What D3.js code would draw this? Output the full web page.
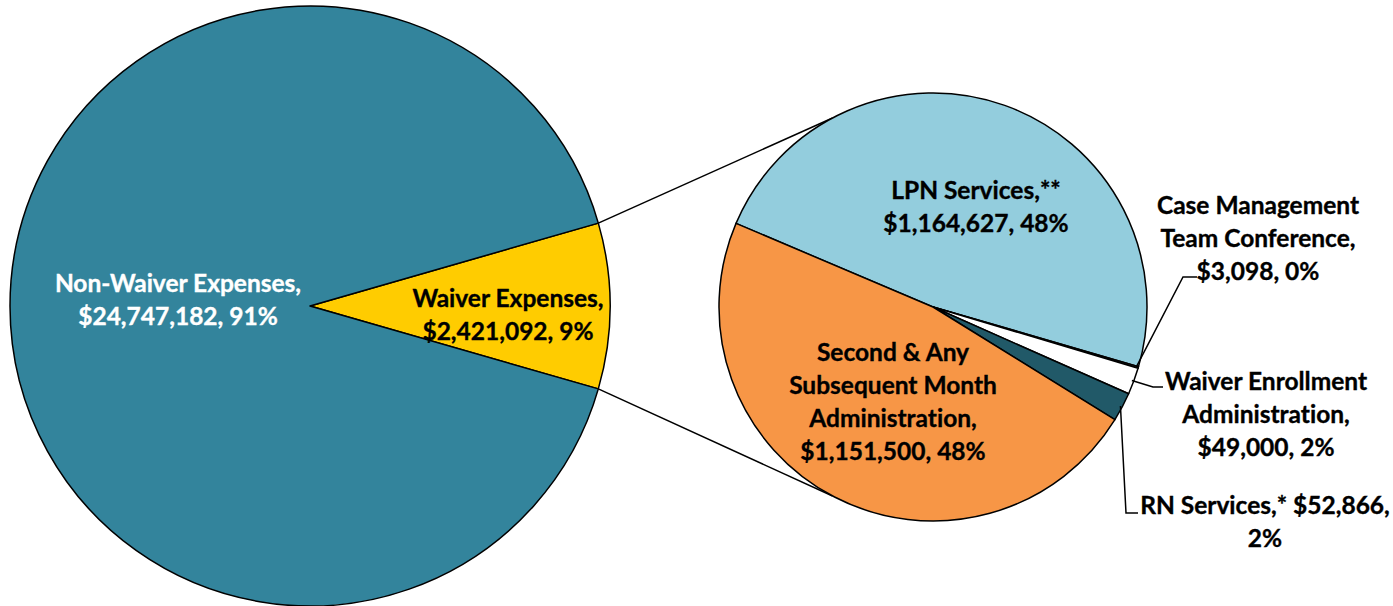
<!DOCTYPE html>
<html>
<head>
<meta charset="utf-8">
<script src="https://cdn.jsdelivr.net/npm/d3@7"></script>
<style>
  html, body { margin: 0; padding: 0; background: #fff; }
  svg text {
    font-family: Lato, "Open Sans", sans-serif;
    font-weight: 700;
    font-size: 24.5px;
    font-variant-ligatures: none;
    font-feature-settings: "liga" 0, "dlig" 0;
  }
</style>
</head>
<body>
<svg id="chart" width="1393" height="606"></svg>
<script>
// main pie
const mainNames = ['Waiver Expenses', 'Non-Waiver Expenses']
const mainValues = [2421092, 24747182]
const mainPct = ['9%', '91%']

// breakdown of waiver expenses (clockwise)
const subNames = [
  'LPN Services,**',
  'Case Management Team Conference,',
  'Waiver Enrollment Administration,',
  'RN Services,*',
  'Second & Any Subsequent Month Administration,',
]
const subValues = [1164627, 3098, 49000, 52866, 1151500]
const subPct = ['48%', '0%', '2%', '2%', '48%']

const fmt = d3.format('$,')
const rad = (deg) => (deg * Math.PI) / 180

const svg = d3.select('#chart')

// layout
const big = { cx: 310, cy: 306, r: 300 }
const small = { cx: 933, cy: 307, r: 214 }

const mainColor = d3.scaleOrdinal().domain(mainNames).range(['#ffcc00', '#33849c'])
const subColor = d3.scaleOrdinal().domain(subNames)
  .range(['#93cddd', '#4a4a4a', '#ffffff', '#215968', '#f79646'])

const waiverShare = mainValues[0] / d3.sum(mainValues)
const mainStart = Math.PI / 2 - Math.PI * waiverShare
const mainPie = d3.pie().sort(null).startAngle(mainStart).endAngle(mainStart + 2 * Math.PI)
const subPie = d3.pie().sort(null).startAngle(rad(-67)).endAngle(rad(-67) + 2 * Math.PI)

const bigArc = d3.arc().innerRadius(0).outerRadius(big.r)
const smallArc = d3.arc().innerRadius(0).outerRadius(small.r)

const mainArcs = mainPie(mainValues)
const subArcs = subPie(subValues)

// point on a circle at a d3 angle (clockwise from 12 o'clock)
const onCircle = (c, a, r = c.r) => [c.cx + r * Math.sin(a), c.cy - r * Math.cos(a)]

// connector lines between the waiver slice and the breakdown pie
const w = mainArcs[0]
const connectors = [
  [onCircle(big, w.startAngle), onCircle(small, rad(-28))],
  [onCircle(big, w.endAngle), onCircle(small, rad(208))],
]
svg.append('g')
  .selectAll('line')
  .data(connectors)
  .join('line')
  .attr('x1', (d) => d[0][0])
  .attr('y1', (d) => d[0][1])
  .attr('x2', (d) => d[1][0])
  .attr('y2', (d) => d[1][1])
  .attr('stroke', '#000')
  .attr('stroke-width', 1.5)

svg.append('g')
  .attr('transform', `translate(${big.cx},${big.cy})`)
  .selectAll('path')
  .data(mainArcs)
  .join('path')
  .attr('d', bigArc)
  .attr('fill', (d, i) => mainColor(mainNames[i]))
  .attr('stroke', '#000')
  .attr('stroke-width', 1.5)
  .attr('stroke-linejoin', 'round')

svg.append('g')
  .attr('transform', `translate(${small.cx},${small.cy})`)
  .selectAll('path')
  .data(subArcs)
  .join('path')
  .attr('d', smallArc)
  .attr('fill', (d, i) => subColor(subNames[i]))
  .attr('stroke', '#000')
  .attr('stroke-width', 1.5)
  .attr('stroke-linejoin', 'round')

// label text lines
const mainLines = [
  [mainNames[0] + ',', `${fmt(mainValues[0])}, ${mainPct[0]}`],
  [mainNames[1] + ',', `${fmt(mainValues[1])}, ${mainPct[1]}`],
]
const subLines = [
  ['LPN Services,**', `${fmt(subValues[0])}, ${subPct[0]}`],
  ['Case Management', 'Team Conference,', `${fmt(subValues[1])}, ${subPct[1]}`],
  ['Waiver Enrollment', 'Administration,', `${fmt(subValues[2])}, ${subPct[2]}`],
  [`RN Services,* ${fmt(subValues[3])},`, subPct[3]],
  ['Second & Any', 'Subsequent Month', 'Administration,', `${fmt(subValues[4])}, ${subPct[4]}`],
]

// label centres (first line) and leader elbows, in page pixels
const mainLabelPos = [[508, 298], [178, 283]]
const mainLabelFill = ['#000', '#fff']
const subLabelPos = [[976, 190], [1258, 205], [1266, 381], [1265, 505], [893, 352]]
const lineH = 33

const leaders = [
  null,
  { mid: [1183, 277], end: [1197, 277] },
  { mid: [1153, 387], end: [1163, 387] },
  { mid: [1126, 513], end: [1138, 513] },
  null,
]

const drawLabel = (g, lines, pos, fill) => {
  const t = g.append('text')
    .attr('text-anchor', 'middle')
    .attr('fill', fill)
    .attr('stroke', fill)
    .attr('stroke-width', 0.35)
  t.selectAll('tspan')
    .data(lines)
    .join('tspan')
    .attr('x', pos[0])
    .attr('y', (d, i) => pos[1] + i * lineH)
    .attr('dy', '0.35em')
    .text((d) => d)
}

const labels = svg.append('g')
mainLines.forEach((lines, i) => drawLabel(labels, lines, mainLabelPos[i], mainLabelFill[i]))
subLines.forEach((lines, i) => drawLabel(labels, lines, subLabelPos[i], '#000'))

// leader lines from slice edge to label
const leaderG = svg.append('g')
subArcs.forEach((a, i) => {
  const l = leaders[i]
  if (!l) return
  const midA = (a.startAngle + a.endAngle) / 2
  const p0 = onCircle(small, midA, small.r - 2)
  leaderG.append('path')
    .attr('d', d3.line()([p0, l.mid, l.end]))
    .attr('fill', 'none')
    .attr('stroke', '#000')
    .attr('stroke-width', 1.5)
})
</script>
</body>
</html>
